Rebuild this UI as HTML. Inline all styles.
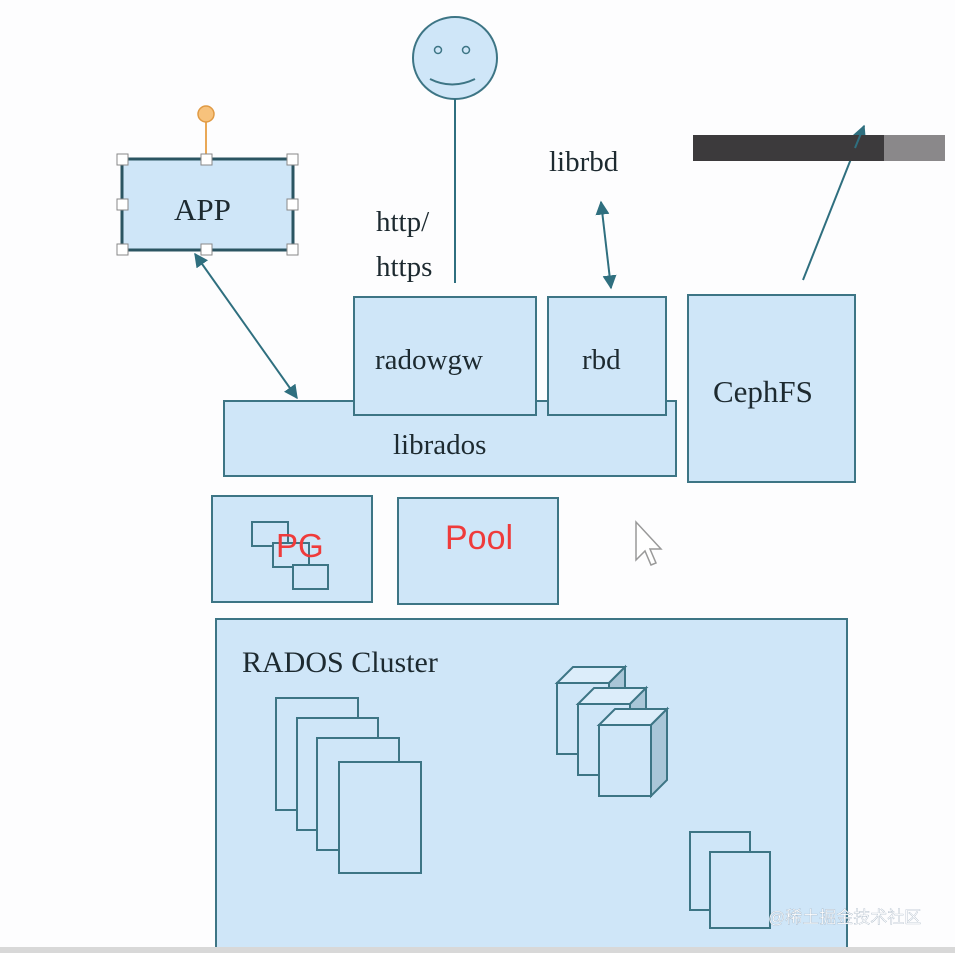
<!DOCTYPE html>
<html><head><meta charset="utf-8"><style>
html,body{margin:0;padding:0;background:#fdfdfe;width:955px;height:953px;overflow:hidden}
svg{display:block}
text{font-family:"Liberation Serif",serif;fill:#1d2a30}
</style></head><body>
<svg width="955" height="953" viewBox="0 0 955 953" xmlns="http://www.w3.org/2000/svg">
<defs>
<marker id="a" viewBox="0 0 10 10" refX="9" refY="5" markerWidth="7" markerHeight="7" orient="auto-start-reverse"><path d="M0,0L10,5L0,10z" fill="#2f6f7f"/></marker>
</defs>
<g fill="#cfe6f8" stroke="#3d7585" stroke-width="2">
<!-- smiley -->
<ellipse cx="455" cy="58" rx="42" ry="41"/>
<!-- APP -->
<rect x="122" y="159" width="171" height="91" stroke="#2b5562" stroke-width="3"/>
<rect x="354" y="297" width="182" height="118"/>
<rect x="224" y="401" width="452" height="75"/>
<rect x="354" y="297" width="182" height="118"/>
<rect x="548" y="297" width="118" height="118"/>
<rect x="688" y="295" width="167" height="187"/>
<rect x="212" y="496" width="160" height="106"/>
<rect x="398" y="498" width="160" height="106"/>
<rect x="216" y="619" width="631" height="340"/>
<!-- PG inner -->
<rect x="252" y="522" width="36" height="24"/>
<rect x="273" y="543" width="36" height="24"/>
<rect x="293" y="565" width="35" height="24"/>
<!-- pages -->
<rect x="276" y="698" width="82" height="112"/>
<rect x="297" y="718" width="81" height="112"/>
<rect x="317" y="738" width="82" height="112"/>
<rect x="339" y="762" width="82" height="111"/>
<rect x="690" y="832" width="60" height="78"/>
<rect x="710" y="852" width="60" height="76"/>
</g>
<!-- cubes -->
<g stroke="#3d7585" stroke-width="2">
<g id="c">
<path d="M557,683 L573,667 L625,667 L609,683 Z" fill="#dcedfa"/>
<path d="M609,683 L625,667 L625,738 L609,754 Z" fill="#a9c6d8"/>
<rect x="557" y="683" width="52" height="71" fill="#cfe6f8"/>
</g>
<use href="#c" transform="translate(21,21)"/>
<use href="#c" transform="translate(42,42)"/>
</g>
<!-- smiley face -->
<circle cx="438" cy="50" r="3.5" fill="none" stroke="#3d7585" stroke-width="1.5"/>
<circle cx="466" cy="50" r="3.5" fill="none" stroke="#3d7585" stroke-width="1.5"/>
<path d="M430,79 Q452,90 475,79" fill="none" stroke="#3d7585" stroke-width="2"/>
<line x1="455" y1="99" x2="455" y2="283" stroke="#2f6f7f" stroke-width="2"/>
<!-- APP handles -->
<line x1="206" y1="118" x2="206" y2="159" stroke="#e9a857" stroke-width="2"/>
<circle cx="206" cy="114" r="8" fill="#f7c27c" stroke="#e09a44" stroke-width="1.5"/>
<g fill="#fff" stroke="#888" stroke-width="1">
<rect x="117" y="154" width="11" height="11"/><rect x="201" y="154" width="11" height="11"/><rect x="287" y="154" width="11" height="11"/>
<rect x="117" y="199" width="11" height="11"/><rect x="287" y="199" width="11" height="11"/>
<rect x="117" y="244" width="11" height="11"/><rect x="201" y="244" width="11" height="11"/><rect x="287" y="244" width="11" height="11"/>
</g>
<!-- arrows -->
<g stroke="#2f6f7f" stroke-width="2" fill="none">
<line x1="195" y1="254" x2="297" y2="398" marker-start="url(#a)" marker-end="url(#a)"/>
<line x1="601" y1="202" x2="611" y2="288" marker-start="url(#a)" marker-end="url(#a)"/>
<line x1="803" y1="280" x2="864" y2="126" marker-end="url(#a)"/>
</g>
<!-- dark bar -->
<rect x="693" y="135" width="191" height="26" fill="#3c3a3c"/>
<rect x="884" y="135" width="61" height="26" fill="#8a888a"/>
<line x1="855" y1="148" x2="864" y2="126" stroke="#2f6f7f" stroke-width="2"/>
<!-- text -->
<text x="174" y="220" font-size="31">APP</text>
<text x="376" y="231" font-size="29">http/</text>
<text x="376" y="276" font-size="29">https</text>
<text x="549" y="171" font-size="29">librbd</text>
<text x="375" y="369" font-size="29">radowgw</text>
<text x="582" y="369" font-size="29">rbd</text>
<text x="713" y="402" font-size="31">CephFS</text>
<text x="393" y="454" font-size="29">librados</text>
<text x="242" y="672" font-size="30">RADOS Cluster</text>
<text x="276" y="557" font-size="33" style="font-family:'Liberation Sans',sans-serif;fill:#ef3b3b">PG</text>
<text x="445" y="549" font-size="34" style="font-family:'Liberation Sans',sans-serif;fill:#ef3b3b">Pool</text>
<!-- cursor -->
<path d="M636,522 L636,560 L645,551 L651,565 L656,563 L650,549 L661,549 Z" fill="#fff" stroke="#999" stroke-width="1.5"/>
<text x="768" y="923" font-size="17" style="font-family:'Liberation Sans','Noto Sans CJK SC',sans-serif;fill:#ffffff;stroke:#9ab;stroke-width:0.3">@稀土掘金技术社区</text>
<rect x="0" y="947" width="955" height="6" fill="#d8d8d8"/>
</svg>
</body></html>
